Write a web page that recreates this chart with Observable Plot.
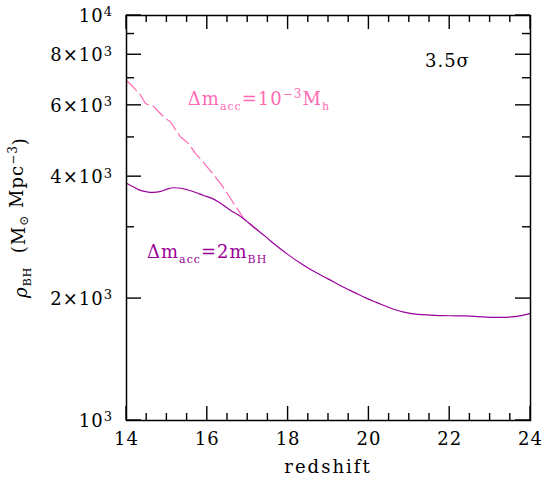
<!DOCTYPE html>
<html><head><meta charset="utf-8">
<script src="https://cdn.jsdelivr.net/npm/d3@7"></script>
<script src="https://cdn.jsdelivr.net/npm/@observablehq/plot@0.6"></script>
<style>body{margin:0;background:#fff}</style>
</head><body><div id="chart"></div>
<script>
// Δm_acc = 2 m_BH (solid purple)
const redshift2m = [14.0,14.2,14.35,14.5,14.66,14.85,15.0,15.17,15.35,15.5,15.7,15.91,16.1,16.25,16.4,16.58,16.75,16.9,17.05,17.23,17.45,17.65,18.0,18.3,18.6,19.0,19.3,19.65,19.96,20.2,20.53,20.87,21.2,21.52,22.0,22.35,22.7,23.0,23.3,23.6,23.8,24.0];
const rho2m = [3855,3760,3700,3670,3657,3680,3725,3756,3745,3714,3660,3595,3540,3479,3400,3300,3225,3148,3060,2957,2840,2731,2568,2447,2345,2234,2152,2069,1999,1954,1896,1851,1829,1821,1814,1812,1806,1798,1797,1805,1818,1838];
// Δm_acc = 1e-3 M_h (dashed pink)
const redshiftMh = [14.0,14.08,14.2,14.35,14.47,14.56,14.64,14.76,14.92,15.09,15.2,15.34,15.54,15.71,15.85,16.0,16.15,16.33,16.5,16.66,16.8,16.9,17.05,17.23];
const rhoMh = [6900,6795,6600,6357,6062,6010,6004,5835,5617,5458,5250,5012,4827,4560,4400,4223,4050,3843,3630,3428,3270,3148,3060,2957];

const xMajorTicks = [14,16,18,20,22,24];
const xMinorTicks = [14.5,15,15.5,16.5,17,17.5,18.5,19,19.5,20.5,21,21.5,22.5,23,23.5];
const yMajorTicks = [1000,2000,4000,6000,8000,10000];
const yMinorTicks = [3000,5000,7000,9000];
const yTickMantissa = ["","2×","4×","6×","8×",""];
const yTickExponent = ["3","3","3","3","3","4"];

const colorMh = "#ff69b4";
const color2m = "#990099";

const solid = redshift2m.map((z,i) => ({z, rho: rho2m[i]}));
const dashed = redshiftMh.map((z,i) => ({z, rho: rhoMh[i]}));

const plot = Plot.plot({
  width: 545, height: 477,
  marginLeft: 126, marginRight: 15, marginTop: 15, marginBottom: 57,
  x: {domain: [14, 24]},
  y: {type: "log", domain: [1000, 10000], axis: null},
  style: {fontFamily: "DejaVu Serif", fontSize: "18px", background: "white", color: "black", letterSpacing: "1px"},
  marks: [
    Plot.lineY(dashed, {x: "z", y: "rho", stroke: colorMh, strokeWidth: 1.2, strokeDasharray: "14,5", curve: "linear"}),
    Plot.lineY(solid, {x: "z", y: "rho", stroke: color2m, strokeWidth: 1.2, curve: "monotone-x"}),
    Plot.axisX(xMajorTicks, {anchor: "bottom", tickSize: 0, tickPadding: 12, tickFormat: d => String(d), label: null}),
    Plot.frame({stroke: "black", strokeWidth: 1.5})
  ]
});

document.getElementById("chart").appendChild(plot);

const sx = plot.scale("x"), sy = plot.scale("y");
const svg = d3.select(plot);

// inward ticks on all four sides, placed with the plot's own scales
const yB = sy.apply(1000), yT = sy.apply(10000), xL = sx.apply(14), xR = sx.apply(24);
const tg = svg.append("g").attr("stroke", "black").attr("stroke-width", 1.4);
function tickX(v, len) {
  const x = sx.apply(v);
  tg.append("line").attr("x1", x).attr("x2", x).attr("y1", yB).attr("y2", yB - len);
  tg.append("line").attr("x1", x).attr("x2", x).attr("y1", yT).attr("y2", yT + len);
}
function tickY(v, len) {
  const y = sy.apply(v);
  tg.append("line").attr("x1", xL).attr("x2", xL + len).attr("y1", y).attr("y2", y);
  tg.append("line").attr("x1", xR).attr("x2", xR - len).attr("y1", y).attr("y2", y);
}
xMajorTicks.forEach(v => tickX(v, 14));
xMinorTicks.forEach(v => tickX(v, 7));
yMajorTicks.forEach(v => tickY(v, 15));
yMinorTicks.forEach(v => tickY(v, 8));

const g = svg.append("g").attr("font-family", "DejaVu Serif").attr("font-size", 18).attr("fill", "black").attr("text-anchor", "start");
yMajorTicks.forEach((v, i) => {
  const t = g.append("text").attr("x", xL - 13).attr("y", sy.apply(v)).attr("text-anchor", "end").attr("dy", "0.38em");
  t.append("tspan").text(yTickMantissa[i] + "10");
  t.append("tspan").attr("dy", "-0.42em").attr("font-size", 13).text(yTickExponent[i]);
});

// x axis title
g.append("text").attr("x", (xL + xR) / 2).attr("y", 473).attr("text-anchor", "middle").attr("letter-spacing", "2px").text("redshift");

// y axis title
const yl = g.append("text").attr("transform", `translate(27,${(yB + yT) / 2}) rotate(-90)`).attr("text-anchor", "middle");
yl.append("tspan").attr("font-style", "italic").text("ρ");
yl.append("tspan").attr("font-size", 11).attr("dy", "0.35em").text("BH");
yl.append("tspan").attr("dy", "-0.35em").text("\u00a0\u00a0(M");
yl.append("tspan").attr("font-size", 12).attr("dy", "0.3em").text("⊙");
yl.append("tspan").attr("dy", "-0.3em").text("\u00a0Mpc");
yl.append("tspan").attr("font-size", 12).attr("dy", "-0.5em").text("−3");
yl.append("tspan").attr("dy", "0.5em").text(")");

// annotations
function label(z, rho, color, parts) {
  const t = g.append("text").attr("x", sx.apply(z)).attr("y", sy.apply(rho)).attr("fill", color).attr("text-anchor", "start");
  let shift = 0;
  parts.forEach(([s, kind]) => {
    const sp = t.append("tspan").text(s);
    let target = 0;
    if (kind === "sub") { target = 5; sp.attr("font-size", 11); }
    if (kind === "sup") { target = -7; sp.attr("font-size", 12); }
    sp.attr("dy", target - shift);
    shift = target;
  });
}
label(15.53, 6000, colorMh, [["Δm"], ["acc", "sub"], ["=10"], ["−3", "sup"], ["M"], ["h", "sub"]]);
label(14.52, 2510, color2m, [["Δm"], ["acc", "sub"], ["=2m"], ["BH", "sub"]]);
label(21.4, 7456, "black", [["3.5"], ["σ"]]);
</script>
</body></html>
